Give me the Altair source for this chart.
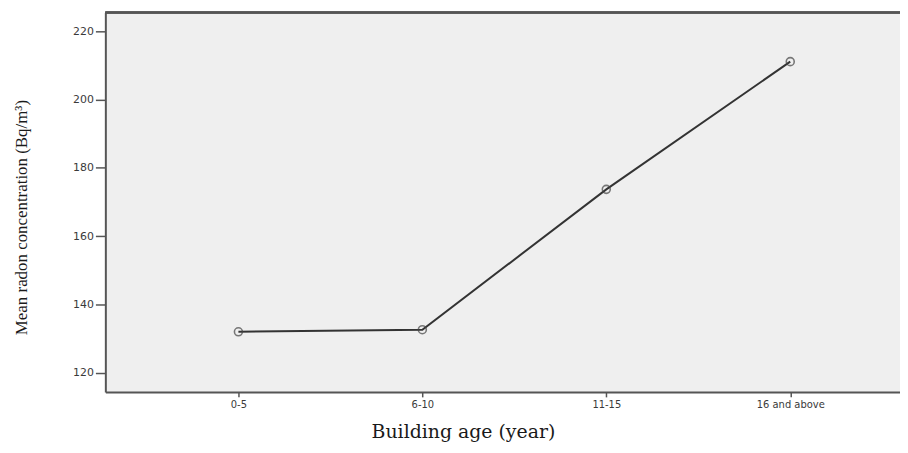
import altair as alt
import pandas as pd

categories = ["0-5", "6-10", "11-15", "16 and above"]
radon_values = [132.0, 132.6, 173.7, 211.1]
y_ticks = [120, 140, 160, 180, 200, 220]

df = pd.DataFrame({"age": categories, "radon": radon_values})

W, H = 800, 382

x_enc = alt.X(
    "age:N",
    sort=categories,
    scale=alt.Scale(type="point", padding=0.66, align=0.548),
    axis=alt.Axis(
        title="Building age (year)",
        labelAngle=0,
        labelFont="DejaVu Sans",
        labelFontSize=10,
        labelColor="#3a3a3a",
        labelPadding=3,
        tickSize=5,
        tickColor="#555555",
        tickWidth=1.5,
        domainColor="#555555",
        domainWidth=2,
        titleFont="DejaVu Serif",
        titleFontSize=19,
        titleFontWeight="normal",
        titleColor="#1a1a1a",
        titleX=360,
        titleY=40,
        titleBaseline="middle",
        titleAlign="center",
        grid=False,
    ),
)

y_enc = alt.Y(
    "radon:Q",
    scale=alt.Scale(domain=[114.4, 225.5], nice=False, zero=False),
    axis=alt.Axis(
        values=y_ticks,
        title="Mean radon concentration (Bq/m³)",
        labelFont="DejaVu Sans",
        labelFontSize=11,
        labelColor="#3a3a3a",
        labelPadding=2,
        tickSize=10,
        tickColor="#555555",
        tickWidth=1.5,
        domainColor="#555555",
        domainWidth=2,
        titleFont="Liberation Serif",
        titleFontSize=17,
        titleFontWeight="normal",
        titleColor="#1a1a1a",
        titleX=-84,
        titleY=206,
        titleAngle=270,
        titleBaseline="middle",
        titleAlign="center",
        grid=False,
    ),
)

base = alt.Chart(df)

line = base.mark_line(color="#333333", strokeWidth=2).encode(x=x_enc, y=y_enc)
points = base.mark_point(
    shape="circle", size=64, filled=False, color="#444444", strokeWidth=1.6
).encode(x=x_enc, y=y_enc)

top_border = alt.Chart(df).mark_rule(color="#555555", strokeWidth=2).encode(
    x=alt.value(0), x2=alt.value(W), y=alt.value(0)
)

chart = (
    alt.layer(line, points, top_border)
    .properties(
        width=W,
        height=H,
        autosize=alt.AutoSizeParams(type="none"),
        padding={"left": 98, "top": 3, "right": 0, "bottom": 55},
        background="white",
    )
    .configure_view(fill="#efefef", stroke=None)
)

chart.save("out.html", embed_options={"renderer": "svg", "actions": False})
